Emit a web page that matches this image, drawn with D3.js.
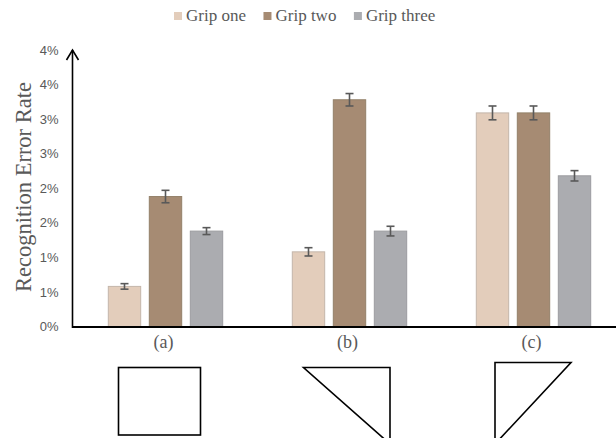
<!DOCTYPE html>
<html>
<head>
<meta charset="utf-8">
<script src="https://cdn.jsdelivr.net/npm/d3@7"></script>
<style>
  html, body { margin: 0; padding: 0; background: #fff; }
  svg { display: block; }
</style>
</head>
<body>
<svg id="chart" width="616" height="438"></svg>
<script>
// Recognition error rate per grip, for three touch-area shapes
const categories = ["(a)", "(b)", "(c)"];
const seriesNames = ["Grip one", "Grip two", "Grip three"];
const gripOne = [0.58, 1.08, 3.09];
const gripTwo = [1.88, 3.28, 3.09];
const gripThree = [1.38, 1.38, 2.18];
const gripOneErr = [0.04, 0.06, 0.10];
const gripTwoErr = [0.09, 0.09, 0.10];
const gripThreeErr = [0.05, 0.07, 0.075];
const yTickValues = [0, 0.5, 1, 1.5, 2, 2.5, 3, 3.5, 4];
const yTickLabels = ["0%", "1%", "1%", "2%", "2%", "3%", "3%", "4%", "4%"];
const shapeKinds = ["rect", "triangleDown", "triangleUp"];

const values = [gripOne, gripTwo, gripThree];
const errors = [gripOneErr, gripTwoErr, gripThreeErr];
const fills = ["#E3CDBB", "#A68B73", "#ABACB0"];
const strokes = ["#c4b6aa", "#938069", "#9c9ca0"];

const rows = [];
categories.forEach((c, ci) => {
  seriesNames.forEach((s, si) => {
    rows.push({ cat: c, series: s, si, value: values[si][ci], err: errors[si][ci] });
  });
});

const svg = d3.select("#chart");
const axisX = 72.5, baseY = 326.5;

const y = d3.scaleLinear().domain([0, 4]).range([baseY, 50]);
const x0 = d3.scaleBand().domain(categories).range([73.5, 625.5]);
const x1 = d3.scaleBand().domain(seriesNames).range([34.8, 149.2]).paddingInner(0.21);

// Legend
const legend = svg.append("g");
let lx = 174;
seriesNames.forEach((s, i) => {
  legend.append("rect").attr("x", lx).attr("y", 12).attr("width", 8).attr("height", 8)
    .attr("fill", fills[i]);
  const t = legend.append("text").attr("x", lx + 12).attr("y", 21)
    .attr("font-family", "Liberation Serif, Times New Roman, serif")
    .attr("font-size", 17).attr("fill", "#595959").text(s);
  lx += 12 + t.node().getComputedTextLength() + 17.5;
});

// Bars
const bars = svg.append("g");
bars.selectAll("rect").data(rows).join("rect")
  .attr("x", d => x0(d.cat) + x1(d.series))
  .attr("y", d => y(d.value))
  .attr("width", x1.bandwidth())
  .attr("height", d => baseY - y(d.value))
  .attr("fill", d => fills[d.si])
  .attr("stroke", d => strokes[d.si])
  .attr("stroke-width", 1);

// Error bars
const eb = svg.append("g").attr("stroke", "#595959").attr("stroke-width", 1.6);
rows.forEach(d => {
  const cx = x0(d.cat) + x1(d.series) + x1.bandwidth() / 2;
  const y1 = y(d.value + d.err), y2 = y(d.value - d.err);
  eb.append("line").attr("x1", cx).attr("x2", cx).attr("y1", y1).attr("y2", y2);
  eb.append("line").attr("x1", cx - 4).attr("x2", cx + 4).attr("y1", y1).attr("y2", y1);
  eb.append("line").attr("x1", cx - 4).attr("x2", cx + 4).attr("y1", y2).attr("y2", y2);
});

// Y axis tick labels
const yAxis = d3.axisLeft(y).tickValues(yTickValues)
  .tickFormat((d, i) => yTickLabels[i]).tickSize(0).tickPadding(14);
const gy = svg.append("g").attr("transform", `translate(${axisX},0)`).call(yAxis);
gy.select(".domain").remove();
gy.selectAll("text").attr("font-family", "Liberation Sans, Arial, sans-serif")
  .attr("font-size", 13).attr("fill", "#595959");

// Axis lines with arrow on the y axis
svg.append("line").attr("x1", axisX).attr("x2", 616).attr("y1", baseY + 0.5).attr("y2", baseY + 0.5)
  .attr("stroke", "#000").attr("stroke-width", 2);
svg.append("line").attr("x1", axisX).attr("x2", axisX).attr("y1", baseY + 1.5).attr("y2", 50)
  .attr("stroke", "#000").attr("stroke-width", 1.6);
svg.append("path").attr("d", `M${axisX - 6},${60} L${axisX},${50} L${axisX + 6},${60}`)
  .attr("fill", "none").attr("stroke", "#000").attr("stroke-width", 1.6);

// Y title
svg.append("text")
  .attr("transform", `translate(31,187) rotate(-90)`)
  .attr("text-anchor", "middle")
  .attr("font-family", "Liberation Serif, Times New Roman, serif")
  .attr("font-size", 22.5).attr("fill", "#595959")
  .text("Recognition Error Rate");

// Category labels
svg.append("g").selectAll("text").data(categories).join("text")
  .attr("x", d => x0(d) + x0.bandwidth() / 2 - 2)
  .attr("y", 348)
  .attr("text-anchor", "middle")
  .attr("font-family", "Liberation Serif, Times New Roman, serif")
  .attr("font-size", 18).attr("fill", "#595959")
  .text(d => d);

// Shape icons beneath each category
const icons = svg.append("g").attr("fill", "none").attr("stroke", "#000").attr("stroke-width", 1.6);
categories.forEach((c, i) => {
  const cx = x0(c) + x0.bandwidth() / 2;
  const kind = shapeKinds[i];
  if (kind === "rect") {
    icons.append("rect").attr("x", cx - 47).attr("y", 367.5).attr("width", 82).attr("height", 67.5);
  } else if (kind === "triangleDown") {
    icons.append("path").attr("d", `M${cx - 46},367.5 L${cx + 40.5},367.5 L${cx + 40.5},444 Z`);
  } else {
    icons.append("path").attr("d", `M${cx - 38.5},362.5 L${cx + 37.5},362.5 L${cx - 38.5},444 Z`);
  }
});
</script>
</body>
</html>
